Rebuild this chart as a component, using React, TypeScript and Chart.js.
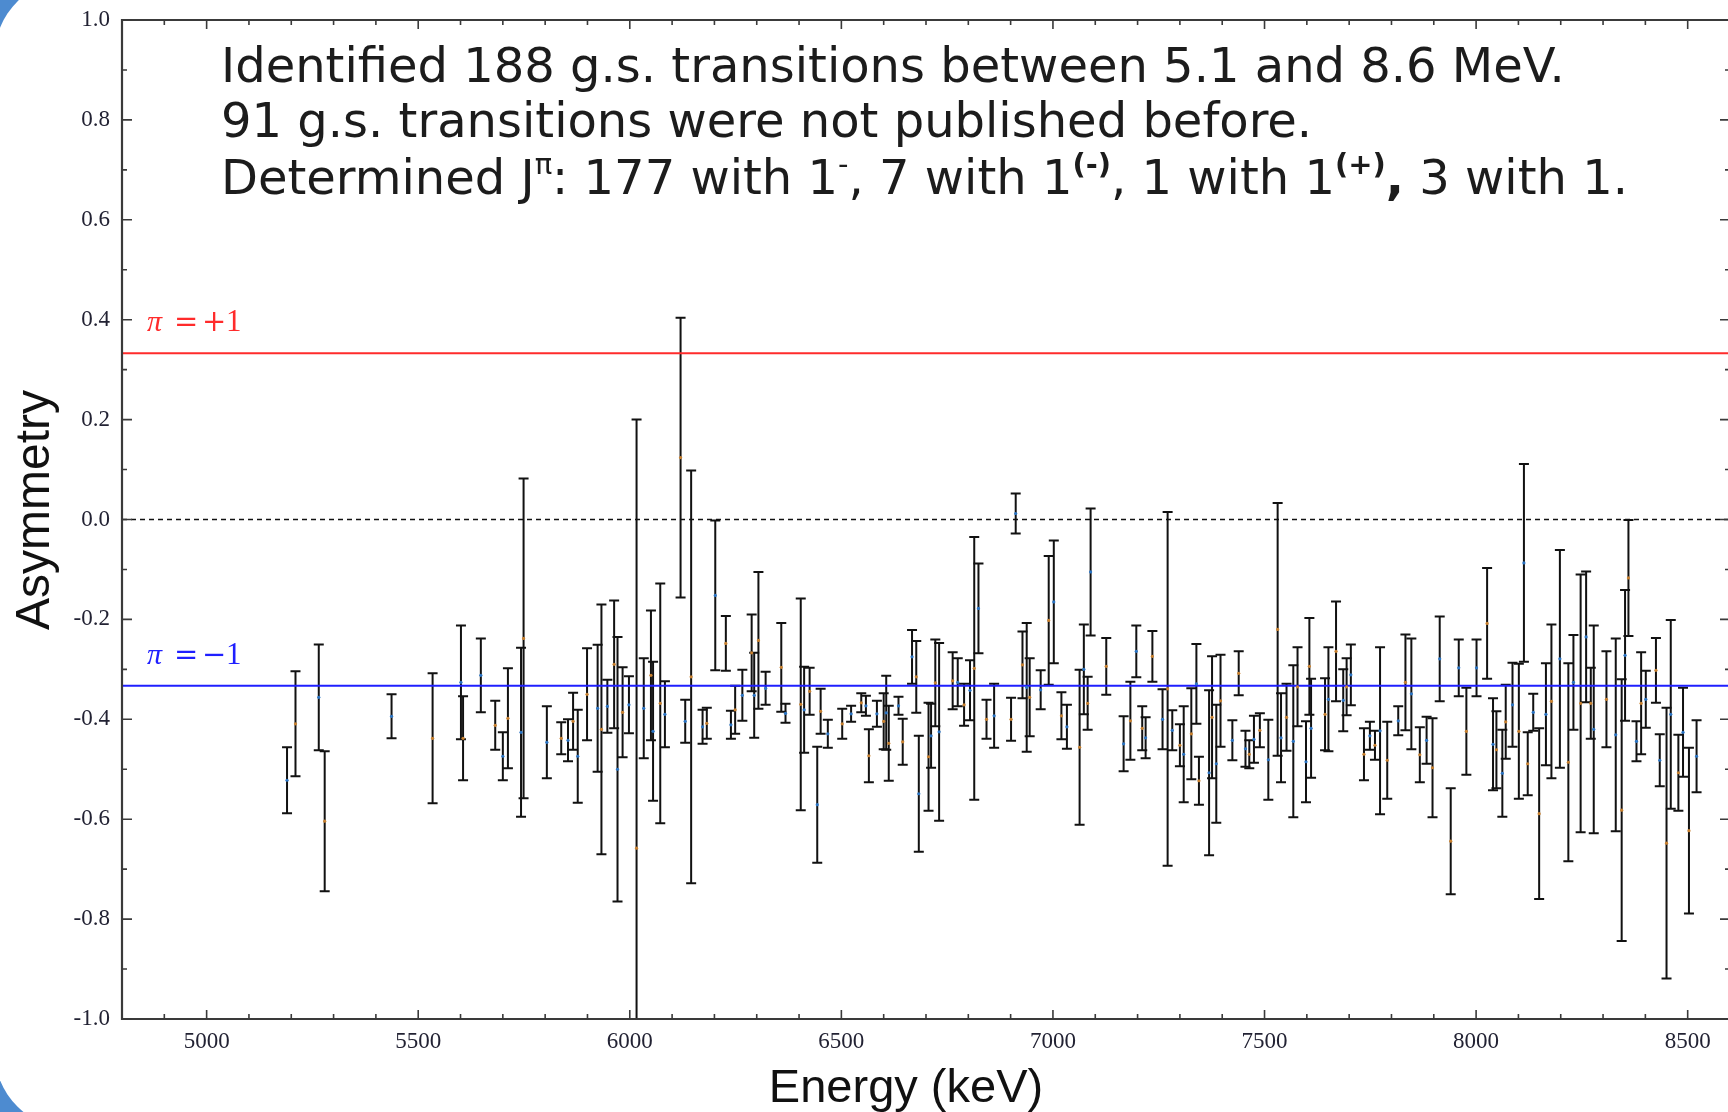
import { useEffect, useRef } from "react";
import { Chart, registerables } from "chart.js";

Chart.register(...registerables);

// ---------- data ----------
const energies = [
  5190, 5210, 5265, 5279, 5437, 5534, 5601, 5606, 5648, 5682, 5700, 5712, 5743, 5749, 5804, 5838, 5854, 5866, 5877, 5899,
  5924, 5933, 5947, 5963, 5971, 5983, 5998, 6016, 6033, 6050, 6055, 6072, 6083,
  6120, 6131, 6145, 6172, 6182, 6202, 6227, 6239, 6249, 6266, 6288, 6294, 6304, 6321, 6358, 6368, 6404, 6412, 6425, 6443,
  6451, 6468, 6502, 6523, 6547, 6558, 6565, 6584, 6600, 6606, 6612, 6635, 6645, 6667, 6677, 6683, 6706, 6712, 6722, 6731,
  6763, 6775, 6790, 6804, 6814, 6824, 6843, 6861, 6901, 6912, 6928, 6938, 6945,
  6971, 6990, 7002, 7020, 7033, 7063, 7073, 7082, 7089, 7126, 7167, 7183, 7197, 7211, 7219, 7235, 7259, 7271, 7282, 7300,
  7309, 7327, 7339, 7345, 7369, 7376, 7386, 7396, 7424, 7439, 7455, 7464, 7475, 7489, 7509, 7531, 7539, 7552, 7568, 7578,
  7598, 7606, 7610, 7643, 7651, 7669, 7686, 7694, 7704, 7735, 7749, 7761, 7773, 7790, 7816,
  7833, 7847, 7867, 7883, 7897, 7914, 7940, 7959, 7977, 8001, 8026, 8040, 8048, 8062, 8070, 8086, 8101, 8113, 8122, 8135,
  8149, 8165, 8178, 8198, 8218, 8230, 8247, 8260, 8271, 8278, 8308, 8330, 8344, 8352, 8360, 8379, 8390, 8401, 8425, 8434,
  8450, 8460, 8478, 8489, 8503, 8521,
];

const asymmetry = [
  -0.522, -0.409, -0.356, -0.604, -0.394, -0.438, -0.326, -0.438, -0.312, -0.412, -0.474, -0.398, -0.426, -0.238, -0.446, -0.438, -0.442, -0.404, -0.474, -0.35,
  -0.378, -0.42, -0.374, -0.29, -0.5, -0.386, -0.371, -0.658, -0.378, -0.312, -0.424, -0.368, -0.39,
  0.124, -0.404, -0.315, -0.415, -0.408, -0.152, -0.248, -0.411, -0.381, -0.352, -0.267, -0.352, -0.242, -0.338, -0.296, -0.388, -0.37, -0.381, -0.344, -0.571,
  -0.384, -0.429, -0.409, -0.389, -0.367, -0.373, -0.473, -0.389, -0.404, -0.387, -0.448, -0.373, -0.445, -0.275, -0.315, -0.549, -0.475, -0.433, -0.327, -0.425,
  -0.323, -0.326, -0.371, -0.342, -0.298, -0.178, -0.4, -0.393, -0.4, 0.012, -0.291, -0.336, -0.356,
  -0.341, -0.202, -0.165, -0.393, -0.415, -0.456, -0.3, -0.368, -0.105, -0.294, -0.449, -0.403, -0.264, -0.418, -0.437, -0.274, -0.4, -0.339, -0.422, -0.452,
  -0.47, -0.429, -0.329, -0.523, -0.507, -0.396, -0.489, -0.363, -0.442, -0.308, -0.459, -0.47, -0.44, -0.422, -0.481, -0.22, -0.437, -0.396, -0.444, -0.335,
  -0.485, -0.294, -0.418, -0.39, -0.36, -0.264, -0.362, -0.335, -0.311, -0.47, -0.433, -0.452, -0.423, -0.482, -0.403,
  -0.326, -0.349, -0.471, -0.442, -0.497, -0.279, -0.644, -0.297, -0.424, -0.297, -0.208, -0.45, -0.461, -0.508, -0.405, -0.371, -0.424, -0.087, -0.489, -0.386,
  -0.589, -0.39, -0.364, -0.279, -0.486, -0.326, -0.368, -0.235, -0.368, -0.42, -0.36, -0.431, -0.582, -0.272, -0.117, -0.444, -0.368, -0.36, -0.302, -0.482,
  -0.648, -0.39, -0.507, -0.426, -0.623, -0.474,
];

const errors = [
  0.066, 0.105, 0.106, 0.14, 0.044, 0.13, 0.114, 0.084, 0.074, 0.049, 0.048, 0.1, 0.169, 0.32, 0.072, 0.032, 0.042, 0.057, 0.093, 0.092,
  0.127, 0.25, 0.053, 0.128, 0.265, 0.09, 0.057, 0.858, 0.1, 0.13, 0.139, 0.24, 0.066,
  0.28, 0.043, 0.413, 0.034, 0.031, 0.15, 0.055, 0.028, 0.048, 0.051, 0.077, 0.085, 0.137, 0.033, 0.089, 0.019, 0.212, 0.086, 0.047, 0.116,
  0.045, 0.028, 0.03, 0.016, 0.019, 0.02, 0.053, 0.026, 0.056, 0.074, 0.075, 0.018, 0.046, 0.054, 0.072, 0.116, 0.108, 0.064, 0.087, 0.178,
  0.057, 0.048, 0.042, 0.06, 0.263, 0.09, 0.039, 0.064, 0.043, 0.04, 0.067, 0.129, 0.078,
  0.039, 0.129, 0.123, 0.047, 0.044, 0.155, 0.09, 0.053, 0.127, 0.057, 0.055, 0.078, 0.052, 0.044, 0.041, 0.051, 0.06, 0.354, 0.04, 0.042,
  0.096, 0.091, 0.08, 0.048, 0.165, 0.122, 0.118, 0.092, 0.04, 0.044, 0.036, 0.028, 0.047, 0.034, 0.08, 0.253, 0.089, 0.067, 0.152, 0.079,
  0.081, 0.097, 0.099, 0.072, 0.104, 0.1, 0.062, 0.057, 0.061, 0.052, 0.028, 0.029, 0.167, 0.077, 0.029,
  0.096, 0.111, 0.055, 0.047, 0.099, 0.085, 0.106, 0.057, 0.087, 0.057, 0.111, 0.092, 0.077, 0.087, 0.074, 0.084, 0.135, 0.198, 0.063, 0.037,
  0.171, 0.102, 0.154, 0.218, 0.198, 0.095, 0.258, 0.131, 0.071, 0.208, 0.096, 0.193, 0.262, 0.131, 0.116, 0.04, 0.102, 0.057, 0.065, 0.052,
  0.271, 0.189, 0.076, 0.089, 0.166, 0.072,
];

const xTickValues = [5000, 5500, 6000, 6500, 7000, 7500, 8000, 8500];
const yTickValues = [-1.0, -0.8, -0.6, -0.4, -0.2, 0.0, 0.2, 0.4, 0.6, 0.8, 1.0];
const xRange = [4800, 8600];
const yRange = [-1, 1];
const parityPlus = 0.333;
const parityMinus = -0.333;
const zeroLevel = 0;

const xTitle = "Energy (keV)";
const yTitle = "Asymmetry";
const noteLine1 = "Identified 188 g.s. transitions between 5.1 and 8.6 MeV.";
const noteLine2 = "91 g.s. transitions were not published before.";
const noteLine3 = [
  { t: "Determined J" },
  { t: "π", sup: true },
  { t: ": 177 with 1" },
  { t: "-", sup: true },
  { t: ", 7 with 1" },
  { t: "(-)", sup: true, bold: true },
  { t: ", 1 with 1" },
  { t: "(+)", sup: true, bold: true },
  { t: ",", bold: true },
  { t: " 3 with 1." },
];
const plusLabel = ["π", "=", "+", "1"];
const minusLabel = ["π", "=", "−", "1"];

const RED = "#ff2b2b";
const BLUE = "#1f1fff";

const decorPlugin = {
  id: "decor",
  beforeDatasetsDraw(chart: any) {
    const { ctx, chartArea, scales } = chart;
    const x = scales.x;
    const y = scales.y;
    ctx.save();
    ctx.beginPath();
    ctx.rect(chartArea.left, chartArea.top, chartArea.right - chartArea.left, chartArea.bottom - chartArea.top);
    ctx.clip();
    ctx.strokeStyle = "#111111";
    ctx.lineWidth = 2;
    const cap = 5;
    for (let i = 0; i < energies.length; i++) {
      const px = x.getPixelForValue(energies[i]);
      const top = y.getPixelForValue(asymmetry[i] + errors[i]);
      const bot = y.getPixelForValue(asymmetry[i] - errors[i]);
      ctx.beginPath();
      ctx.moveTo(px, top);
      ctx.lineTo(px, bot);
      ctx.moveTo(px - cap, top);
      ctx.lineTo(px + cap, top);
      ctx.moveTo(px - cap, bot);
      ctx.lineTo(px + cap, bot);
      ctx.stroke();
    }
    ctx.restore();
  },
  afterDraw(chart: any) {
    const { ctx, chartArea, scales } = chart;
    const x = scales.x;
    const y = scales.y;
    const { left, right, top, bottom } = chartArea;
    ctx.save();
    // frame
    ctx.strokeStyle = "#3a3a3a";
    ctx.lineWidth = 2.2;
    ctx.beginPath();
    ctx.moveTo(left, top);
    ctx.lineTo(right, top);
    ctx.lineTo(right, bottom);
    ctx.lineTo(left, bottom);
    ctx.closePath();
    ctx.stroke();
    // ticks (inward)
    ctx.lineWidth = 1.6;
    ctx.beginPath();
    for (let v = xRange[0]; v <= xRange[1]; v += 100) {
      const px = x.getPixelForValue(v);
      const major = v % 500 === 0;
      const len = major ? 9 : 5;
      ctx.moveTo(px, bottom);
      ctx.lineTo(px, bottom - len);
      ctx.moveTo(px, top);
      ctx.lineTo(px, top + len);
    }
    for (let k = -10; k <= 10; k++) {
      const v = k / 10;
      const py = y.getPixelForValue(v);
      const major = k % 2 === 0;
      const len = major ? 10 : 5;
      ctx.moveTo(left, py);
      ctx.lineTo(left + len, py);
      ctx.moveTo(right, py);
      ctx.lineTo(right - len, py);
    }
    ctx.stroke();

    // parity labels (LaTeX-like)
    const drawParity = (parts: string[], val: number, color: string) => {
      const base = y.getPixelForValue(val) - 22;
      const xs = [left + 25, left + 52, left + 80, left + 104];
      const fonts = [
        "italic 30px 'Liberation Serif'",
        "29px 'DejaVu Serif'",
        "29px 'DejaVu Serif'",
        "31px 'Liberation Serif'",
      ];
      ctx.fillStyle = color;
      ctx.textBaseline = "alphabetic";
      ctx.textAlign = "left";
      parts.forEach((p, i) => {
        ctx.font = fonts[i];
        ctx.fillText(p, xs[i], base);
      });
    };
    drawParity(plusLabel, parityPlus, RED);
    drawParity(minusLabel, parityMinus, BLUE);

    // annotation text
    ctx.fillStyle = "#1c1c1c";
    ctx.textAlign = "left";
    ctx.textBaseline = "alphabetic";
    const tx = 221;
    ctx.font = "48px 'DejaVu Sans'";
    ctx.fillText(noteLine1, tx, 82);
    ctx.fillText(noteLine2, tx, 137);
    let cx = tx;
    for (const seg of noteLine3) {
      const size = seg.sup ? 29 : 48;
      ctx.font = `${seg.bold ? "bold " : ""}${size}px 'DejaVu Sans'`;
      const by = seg.sup ? 194 - 20 : 194;
      ctx.fillText(seg.t, cx, by);
      cx += ctx.measureText(seg.t).width;
    }

    // axis titles
    ctx.fillStyle = "#111";
    ctx.font = "47px 'Liberation Sans'";
    ctx.textAlign = "center";
    ctx.fillText(xTitle, 906, 1102);
    ctx.font = "48px 'Liberation Sans'";
    ctx.translate(49, 510);
    ctx.rotate(-Math.PI / 2);
    ctx.fillText(yTitle, 0, 0);
    ctx.restore();
  },
};

export default function App() {
  const ref = useRef<HTMLCanvasElement>(null);
  useEffect(() => {
    if (!ref.current) return;
    const pointColors = energies.map((_, i) => (i % 2 === 0 ? "#2a74c4" : "#c9812f"));
    const chart = new Chart(ref.current, {
      type: "scatter",
      data: {
        datasets: [
          {
            type: "scatter",
            data: energies.map((e, i) => ({ x: e, y: asymmetry[i] })),
            pointRadius: 1.6,
            pointBorderWidth: 0,
            pointBackgroundColor: pointColors,
            order: 0,
          },
          {
            type: "line",
            data: [
              { x: xRange[0], y: parityPlus },
              { x: xRange[1], y: parityPlus },
            ],
            borderColor: RED,
            borderWidth: 2,
            pointRadius: 0,
            order: 1,
          },
          {
            type: "line",
            data: [
              { x: xRange[0], y: parityMinus },
              { x: xRange[1], y: parityMinus },
            ],
            borderColor: BLUE,
            borderWidth: 2,
            pointRadius: 0,
            order: 1,
          },
          {
            type: "line",
            data: [
              { x: xRange[0], y: zeroLevel },
              { x: xRange[1], y: zeroLevel },
            ],
            borderColor: "#111",
            borderWidth: 1.5,
            borderDash: [5, 4],
            pointRadius: 0,
            order: 1,
          },
        ] as any,
      },
      options: {
        animation: false,
        responsive: false,
        devicePixelRatio: 1,
        events: [],
        layout: { padding: { left: 0, top: 20, right: 10, bottom: 0 } },
        plugins: { legend: { display: false }, tooltip: { enabled: false } },
        scales: {
          x: {
            type: "linear",
            min: xRange[0],
            max: xRange[1],
            grid: { display: false, drawTicks: false },
            border: { display: false },
            afterBuildTicks: (s: any) => {
              s.ticks = xTickValues.map((v) => ({ value: v }));
            },
            afterFit: (s: any) => {
              s.height = 93;
              s.paddingLeft = 0;
              s.paddingRight = 0;
            },
            ticks: {
              font: { family: "'Liberation Serif'", size: 23 },
              color: "#222233",
              padding: 9,
              maxRotation: 0,
              autoSkip: false,
              callback: (v: any) => String(v),
            },
          },
          y: {
            type: "linear",
            min: yRange[0],
            max: yRange[1],
            grid: { display: false, drawTicks: false },
            border: { display: false },
            afterBuildTicks: (s: any) => {
              s.ticks = yTickValues.map((v) => ({ value: v }));
            },
            afterFit: (s: any) => {
              s.width = 122;
              s.paddingTop = 0;
              s.paddingBottom = 0;
            },
            ticks: {
              font: { family: "'Liberation Serif'", size: 23 },
              color: "#222233",
              padding: 12,
              autoSkip: false,
              callback: (v: any) => Number(v).toFixed(1),
            },
          },
        },
      } as any,
      plugins: [decorPlugin],
    });
    return () => chart.destroy();
  }, []);

  return (
    <div
      style={{
        position: "fixed",
        left: 0,
        top: 0,
        width: 1728,
        height: 1112,
        overflow: "hidden",
        background: "#4d8bd0",
      }}
    >
      <div
        style={{
          position: "absolute",
          left: -6,
          top: -22,
          width: 1800,
          height: 1152,
          background: "#ffffff",
          borderTopLeftRadius: 80,
          borderBottomLeftRadius: 80,
        }}
      />
      <canvas
        ref={ref}
        width={1740}
        height={1112}
        style={{ position: "absolute", left: 0, top: 0, width: 1740, height: 1112 }}
      />
    </div>
  );
}
